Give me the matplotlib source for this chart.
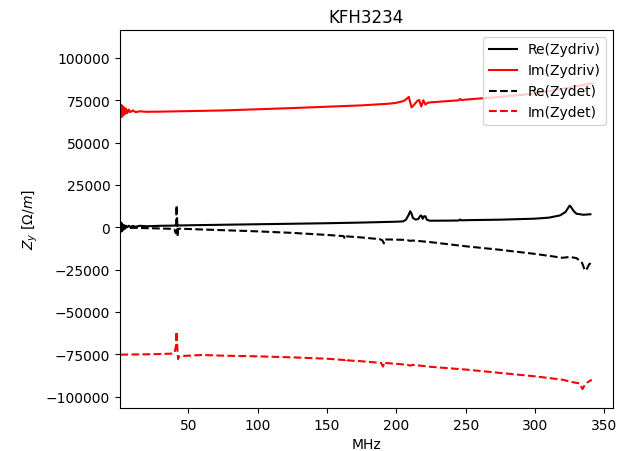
import matplotlib
matplotlib.use("Agg")
import matplotlib.pyplot as plt

# Re(Zydriv)
f_re_driv = [1, 1.3, 1.6, 1.9, 2.2, 2.5, 2.8, 3.1, 3.5, 4, 4.5, 5, 6, 7, 8, 10, 12, 15, 20, 30, 40,
             41.5, 42, 42.5, 45, 50, 75, 100, 125, 150, 175, 200, 205, 207, 209, 210, 211, 212, 214,
             216, 217, 218, 219, 220, 221, 222, 224, 230, 245, 246, 247, 250, 275, 300, 310, 318,
             322, 324, 325, 326, 328, 330, 335, 340]
re_driv = [0, 3000, -2500, 2500, -2200, 1800, -1500, 1300, -1000, 1100, -600, 900, 100, 900, 200, 800,
           300, 900, 600, 900, 1000, 1600, 700, 1200, 1100, 1200, 1500, 1800, 2100, 2400, 2800, 3300,
           3500, 4500, 7500, 9500, 8000, 5500, 4500, 5000, 6500, 7000, 5000, 6500, 6500, 4500, 3900,
           3900, 4000, 4600, 4100, 4200, 4500, 5100, 5700, 7000, 9000, 11500, 12800, 12000, 9500,
           8000, 7400, 7700]

# Im(Zydriv)
f_im_driv = [1, 1.3, 1.6, 1.9, 2.2, 2.5, 2.8, 3.1, 3.5, 4, 4.5, 5, 6, 7, 8, 10, 12, 15, 20, 30, 50,
             75, 100, 125, 150, 175, 195, 200, 205, 207, 209, 211, 213, 215, 216.5, 218, 219.5, 221,
             222.5, 225, 235, 245, 246, 247, 250, 275, 300, 325, 341]
im_driv = [69000, 72500, 65000, 72000, 65500, 71500, 66000, 71000, 66500, 70500, 67000, 70000, 67500,
           69500, 68000, 69000, 68000, 68500, 68200, 68300, 68600, 69000, 69700, 70400, 71200, 72000,
           73000, 73500, 74500, 75500, 77000, 70800, 72500, 74500, 75200, 71300, 75000, 72500, 73500,
           73800, 74400, 75000, 75800, 75100, 75400, 77000, 79000, 82500, 85000]

# Re(Zydet)
f_re_det = [1, 1.5, 2, 2.5, 3, 4, 5, 7, 10, 15, 20, 30, 38, 40, 41, 41.5, 42, 42.3, 42.6, 43, 44, 46,
            50, 60, 75, 100, 125, 150, 162, 163, 164, 165, 175, 188, 190, 191, 192, 195, 200, 205,
            208, 210, 212, 215, 225, 250, 275, 300, 320, 325, 330, 334, 336, 337.5, 339, 341]
re_det = [0, -1500, 800, -1200, 500, -800, 200, -500, -300, -400, -500, -700, -900, -1500, -3500,
          13000, 2000, -5500, -1000, -900, -800, -900, -1000, -1300, -1700, -2400, -3300, -4500,
          -5200, -7000, -5500, -5400, -6000, -7000, -7700, -9500, -7200, -7200, -7300, -7400, -7600,
          -8000, -7800, -8000, -8800, -11200, -13300, -15700, -18000, -17500, -18200, -21000, -25500,
          -24500, -22000, -20500]

# Im(Zydet)
f_im_det = [1, 10, 20, 30, 38, 40, 41, 41.5, 41.8, 42.2, 42.6, 43, 45, 50, 55, 60, 75, 100, 125, 150,
            163, 164, 165, 175, 189, 190.5, 191.5, 192.5, 195, 200, 208, 210, 212, 225, 250, 275,
            300, 320, 328, 332, 334.3, 336, 338, 341]
im_det = [-75200, -75100, -75000, -74800, -74600, -74100, -70500, -61500, -67000, -73500, -77800,
          -76500, -76000, -75800, -75600, -75400, -75800, -76200, -76800, -77600, -78400, -77400,
          -78600, -79100, -80100, -82200, -79500, -80100, -80300, -80600, -81200, -81700, -81200,
          -82400, -84000, -86000, -88000, -90000, -91600, -92100, -95500, -93000, -91500, -90000]

fig = plt.figure(figsize=(6.18, 4.52), dpi=100)
ax = fig.add_axes([120 / 618, 1 - 409 / 452, 493 / 618, 378 / 452])
ax.plot(f_re_driv, re_driv, color='black', linestyle='-', label='Re(Zydriv)')
ax.plot(f_im_driv, im_driv, color='red', linestyle='-', label='Im(Zydriv)')
ax.plot(f_re_det, re_det, color='black', linestyle='--', label='Re(Zydet)')
ax.plot(f_im_det, im_det, color='red', linestyle='--', label='Im(Zydet)')
ax.set_xlim(0.7, 356.3)
ax.set_ylim(-106700, 116500)
ax.set_xlabel('MHz')
ax.set_ylabel(r'$Z_y$ [$\Omega/m$]')
ax.set_title('KFH3234')
ax.legend(loc='upper right')
fig.savefig('out.png', dpi=100)
